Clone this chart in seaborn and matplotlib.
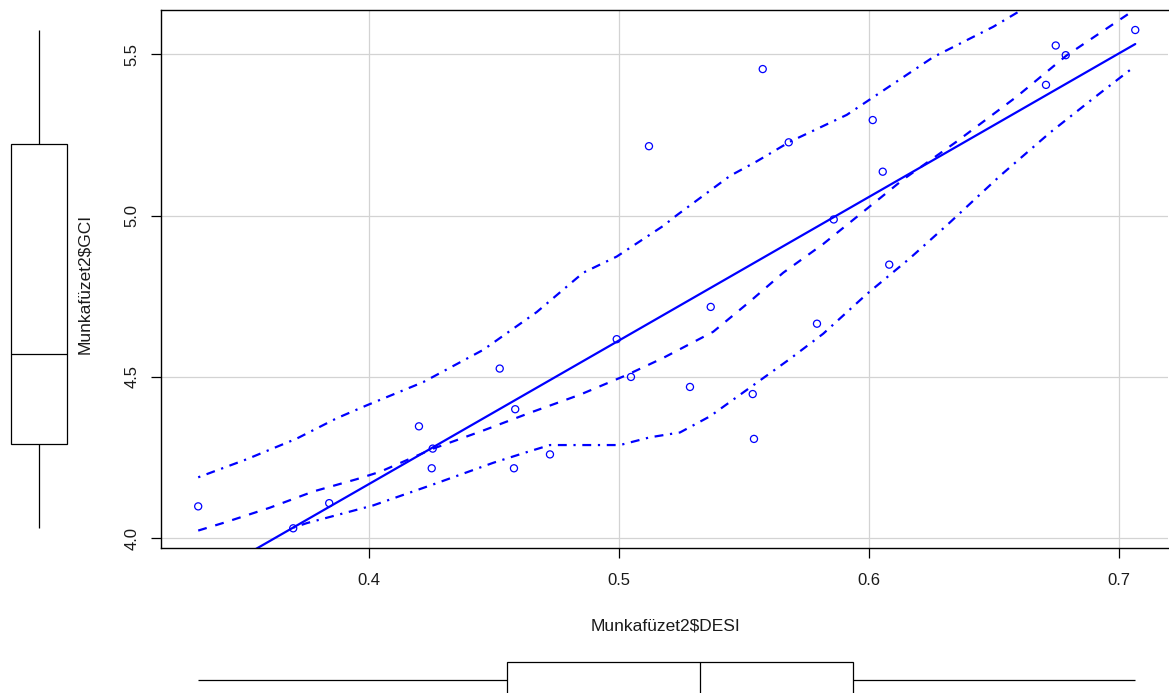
import numpy as np
import pandas as pd
import matplotlib
matplotlib.use("Agg")
import matplotlib.pyplot as plt
import seaborn as sns

# ---- data ----
desi = [0.3317, 0.3697, 0.3841, 0.4200, 0.4251, 0.4255, 0.4523, 0.4580, 0.4585,
        0.4724, 0.4991, 0.5048, 0.5120, 0.5284, 0.5367, 0.5535, 0.5540, 0.5575,
        0.5679, 0.5792, 0.5859, 0.6015, 0.6055, 0.6081, 0.6708, 0.6747, 0.6787,
        0.7065]
gci = [4.099, 4.031, 4.109, 4.347, 4.217, 4.278, 4.526, 4.217, 4.400,
       4.260, 4.617, 4.500, 5.215, 4.469, 4.717, 4.447, 4.308, 5.454,
       5.227, 4.665, 4.988, 5.296, 5.136, 4.848, 5.405, 5.527, 5.497,
       5.575]

# loess smoother (dashed)
smooth_x = [0.3317, 0.3427, 0.3604, 0.3777, 0.3950, 0.4044, 0.4257, 0.4457, 0.4644,
            0.4844, 0.5031, 0.5177, 0.5377, 0.5524, 0.5657, 0.5817, 0.5977, 0.6137,
            0.6350, 0.6590, 0.6790, 0.7057]
smooth_y = [4.024, 4.050, 4.095, 4.145, 4.183, 4.206, 4.278, 4.334, 4.389,
            4.445, 4.506, 4.559, 4.640, 4.734, 4.823, 4.912, 5.012, 5.112,
            5.229, 5.368, 5.496, 5.635]

# upper spread (dot-dash)
upper_x = [0.3317, 0.3511, 0.3711, 0.3871, 0.3991, 0.4217, 0.4457, 0.4671, 0.4857,
           0.4991, 0.5177, 0.5231, 0.5444, 0.5551, 0.5684, 0.5911, 0.6031, 0.6257,
           0.6497, 0.6610, 0.6800, 0.7065]
upper_y = [4.189, 4.245, 4.309, 4.372, 4.412, 4.484, 4.584, 4.701, 4.823,
           4.873, 4.968, 5.001, 5.123, 5.168, 5.229, 5.312, 5.374, 5.491,
           5.585, 5.637, 5.720, 5.840]

# lower spread (dot-dash)
lower_x = [0.3697, 0.3751, 0.3891, 0.4017, 0.4257, 0.4497, 0.4631, 0.4724, 0.4857,
           0.5004, 0.5124, 0.5244, 0.5364, 0.5524, 0.5684, 0.5817, 0.5990, 0.6164,
           0.6324, 0.6524, 0.6724, 0.6897, 0.7064]
lower_y = [4.033, 4.047, 4.076, 4.102, 4.167, 4.234, 4.267, 4.289, 4.289,
           4.289, 4.313, 4.328, 4.378, 4.467, 4.556, 4.634, 4.756, 4.868,
           4.979, 5.123, 5.257, 5.363, 5.463]

x_ticks = [0.4, 0.5, 0.6, 0.7]
y_ticks = [4.0, 4.5, 5.0, 5.5]
x_label = "Munkafüzet2$DESI"
y_label = "Munkafüzet2$GCI"

df = pd.DataFrame({"DESI": desi, "GCI": gci})

sns.set_theme(style="white")
plt.rcParams["font.family"] = ["Liberation Sans", "DejaVu Sans"]

W, H = 1169, 693
fig = plt.figure(figsize=(W / 100, H / 100), dpi=100)


def frac(l, t, r, b):
    return [l / W, (H - b) / H, (r - l) / W, (b - t) / H]


def r_hinges(v):
    """Tukey hinges as R's boxplot (fivenum) computes them."""
    s = np.sort(np.asarray(v, float))
    n = len(s)
    n4 = np.floor((n + 3) / 2) / 2
    d = np.array([n4, n + 1 - n4]) - 1
    return 0.5 * (s[np.floor(d).astype(int)] + s[np.ceil(d).astype(int)])


def use_r_hinges(axis, values, vertical):
    old = np.percentile(values, [25, 75])
    new = r_hinges(values)
    k = 1 if vertical else 0

    def fix(arr):
        arr = np.array(arr, float)
        for o, nw in zip(old, new):
            arr[np.isclose(arr, o, atol=1e-9)] = nw
        return arr

    for p in axis.patches:
        path = p.get_path()
        verts = path.vertices.copy()
        verts[:, k] = fix(verts[:, k])
        path.vertices = verts
    for ln in axis.lines:
        if vertical:
            ln.set_ydata(fix(ln.get_ydata()))
        else:
            ln.set_xdata(fix(ln.get_xdata()))


xlim = (0.3167, 0.7196)
ylim = (3.970, 5.637)
tick_fs = 12
label_fs = 12.5
txt_col = "#1a1a1a"

ax = fig.add_axes(frac(160.7, 10, 1168, 548))
ax.set_xlim(*xlim)
ax.set_ylim(*ylim)
ax.set_xticks(x_ticks)
ax.set_yticks(y_ticks)
ax.set_xticklabels([f"{v:.1f}" for v in x_ticks])
ax.set_yticklabels([f"{v:.1f}" for v in y_ticks], rotation=90, va="center")
ax.grid(True, color="#d3d3d3", linewidth=0.9)
ax.set_axisbelow(True)
for s in ax.spines.values():
    s.set_color("black")
    s.set_linewidth(1.0)
ax.spines["right"].set_visible(False)
ax.tick_params(axis="both", which="both", direction="out", length=7, width=0.9,
               color="black", labelsize=tick_fs, labelcolor=txt_col,
               bottom=True, left=True)
ax.tick_params(axis="x", pad=11)
ax.tick_params(axis="y", pad=8)

lw = 1.6
sns.scatterplot(data=df, x="DESI", y="GCI", ax=ax, marker="o", s=26,
                facecolor="none", edgecolor="blue", linewidth=0.9, zorder=4)
sns.regplot(data=df, x="DESI", y="GCI", ax=ax, scatter=False, ci=None,
            truncate=True, color="blue", line_kws={"linewidth": lw})
sns.lineplot(x=smooth_x, y=smooth_y, ax=ax, color="blue", linewidth=lw,
             sort=False, estimator=None, linestyle=(0, (4, 4)))
sns.lineplot(x=upper_x, y=upper_y, ax=ax, color="blue", linewidth=lw,
             sort=False, estimator=None, linestyle=(0, (1, 3, 4, 3)))
sns.lineplot(x=lower_x, y=lower_y, ax=ax, color="blue", linewidth=lw,
             sort=False, estimator=None, linestyle=(0, (1, 3, 4, 3)))
ax.set_xlim(*xlim)
ax.set_ylim(*ylim)
ax.set_xlabel("")
ax.set_ylabel("")

# marginal boxplot of GCI (left)
axl = fig.add_axes(frac(0, 10, 78, 548))
sns.boxplot(y=gci, ax=axl, width=0.718, color="white", linecolor="black",
            linewidth=0.9, showcaps=False, fliersize=0)
use_r_hinges(axl, gci, vertical=True)
axl.set_xlim(-0.5, 0.5)
axl.set_ylim(*ylim)
axl.axis("off")

# marginal boxplot of DESI (bottom)
axb = fig.add_axes(frac(160.7, 650, 1168, 710))
sns.boxplot(x=desi, ax=axb, width=0.6, color="white", linecolor="black",
            linewidth=0.9, showcaps=False, fliersize=0, orient="h")
use_r_hinges(axb, desi, vertical=False)
axb.set_xlim(*xlim)
axb.set_ylim(0.5, -0.5)
axb.axis("off")

fig.text(666 / W, 1 - 626 / H, x_label, ha="center", va="center",
         fontsize=label_fs, color=txt_col)
fig.text(85 / W, 1 - 284 / H, y_label, ha="center", va="center",
         rotation=90, fontsize=label_fs, color=txt_col)

fig.savefig("out.png", dpi=100)
